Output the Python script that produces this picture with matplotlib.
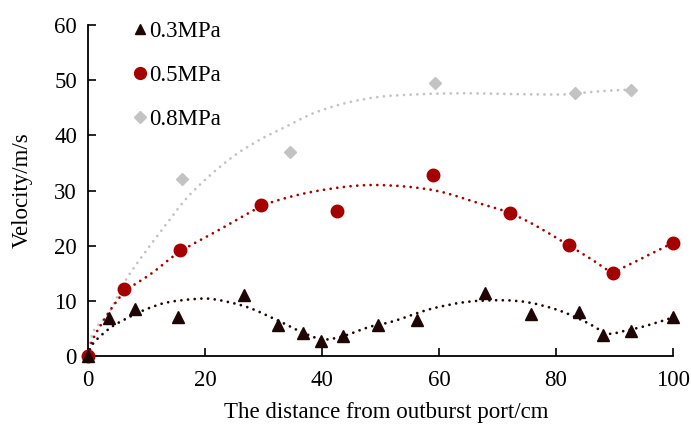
import numpy as np
import matplotlib
matplotlib.use("Agg")
import matplotlib.pyplot as plt
from matplotlib.path import Path
from matplotlib.patches import PathPatch
from matplotlib.lines import Line2D

plt.rcParams['font.family'] = ['Liberation Serif', 'DejaVu Serif']

# measured points
x_03 = [0, 3.5, 8.0, 15.3, 26.7, 32.5, 36.7, 39.8, 43.6, 49.5, 56.2, 67.9, 75.7, 84.0, 88.0, 92.8, 100]
y_03 = [0, 6.9, 8.5, 7.1, 11.1, 5.7, 4.1, 2.8, 3.6, 5.6, 6.6, 11.5, 7.6, 8.0, 3.8, 4.6, 7.0]

x_05 = [0, 6.2, 15.8, 29.5, 42.6, 59.0, 72.1, 82.2, 89.7, 100]
y_05 = [0, 12.2, 19.2, 27.3, 26.3, 32.8, 26.0, 20.1, 15.0, 20.5]

x_08 = [0, 16.1, 34.5, 59.3, 83.2, 92.9]
y_08 = [0, 32.1, 37.0, 49.5, 47.7, 48.2]

# trend curves
t03_x = [0, 0.9, 3.8, 6.6, 10, 13.5, 18, 21.4, 27.1, 32.3, 36.8, 40.2, 43.6, 48.2, 52.2, 58.5, 64.7, 70.7, 75.3, 80.4, 85.0, 88.8, 91.5, 95.5, 100]
t03_y = [0, 2.3, 5.1, 6.8, 8.5, 9.7, 10.3, 10.3, 8.9, 6.5, 4.2, 3.0, 3.6, 5.3, 6.3, 8.5, 9.8, 10.1, 9.7, 8.3, 6.2, 4.1, 4.5, 5.5, 7.0]

t05_x = [0, 0.9, 3.8, 6.5, 10.9, 15.7, 22.3, 29.4, 33.7, 38.5, 44.2, 48.8, 54.5, 60.2, 66.5, 71.9, 76.4, 82.1, 86.1, 89.5, 91.8, 95.8, 100]
t05_y = [0, 3.2, 8.3, 11.8, 15.0, 18.9, 22.8, 27.0, 28.6, 29.8, 30.7, 31.0, 30.7, 29.8, 27.8, 26.0, 23.7, 20.1, 17.5, 15.3, 16.2, 18.3, 20.5]

t08_x = [0, 0.9, 3.5, 6.3, 9.2, 12.6, 16.6, 20.6, 25.1, 29.7, 33.7, 38.5, 44.2, 49.9, 55.6, 61.3, 67.0, 71.9, 80.4, 83.2, 88.9, 92.9]
t08_y = [0, 4.4, 7.7, 13.5, 18.0, 22.8, 28.3, 32.5, 36.4, 39.4, 41.5, 44.0, 45.9, 47.0, 47.4, 47.6, 47.6, 47.5, 47.4, 47.6, 48.1, 48.3]

labels = ['0.3MPa', '0.5MPa', '0.8MPa']
colors = ['#1E0606', '#A50000', '#C3C3C3']
markers = ['^', 'o', 'D']
msizes = [9, 9, 6.5]
FS = 16.5

fig = plt.figure(figsize=(6.91, 4.32), dpi=100)
ax = fig.add_axes([0.1274, 0.176, 0.8466, 0.766])


def smooth_path(xs, ys):
    pts = np.column_stack([xs, ys]).astype(float)
    n = len(pts)
    verts = [pts[0]]
    codes = [Path.MOVETO]
    for i in range(n - 1):
        p0 = pts[i - 1] if i > 0 else pts[i]
        p1 = pts[i]
        p2 = pts[i + 1]
        p3 = pts[i + 2] if i + 2 < n else pts[i + 1]
        c1 = p1 + (p2 - p0) / 6.0
        c2 = p2 - (p3 - p1) / 6.0
        verts += [c1, c2, p2]
        codes += [Path.CURVE4] * 3
    return Path(verts, codes)


trends = [(t03_x, t03_y), (t05_x, t05_y), (t08_x, t08_y)]
series = [(x_03, y_03), (x_05, y_05), (x_08, y_08)]
for i in [2, 1, 0]:
    tx, ty = trends[i]
    patch = PathPatch(smooth_path(tx, ty), fill=False, edgecolor=colors[i], lw=2.0,
                      linestyle=(0, (0.01, 2.4)), capstyle='round', zorder=2,
                      transform=ax.transData)
    ax.add_patch(patch)
for i in [2, 1, 0]:
    xs, ys = series[i]
    ax.plot(xs, ys, linestyle='none', marker=markers[i], ms=msizes[i],
            color=colors[i], mec=colors[i], clip_on=False, zorder=3)

ax.set_xlim(0, 100)
ax.set_ylim(0, 60)
ax.set_xticks([0, 20, 40, 60, 80, 100])
ax.set_yticks([0, 10, 20, 30, 40, 50, 60])
ax.tick_params(axis='both', direction='in', length=6, width=1.2, labelsize=FS)
ax.tick_params(axis='x', pad=10)
ax.tick_params(axis='y', pad=8)
ax.spines['top'].set_visible(False)
ax.spines['right'].set_visible(False)
for s in ['left', 'bottom']:
    ax.spines[s].set_linewidth(1.3)
ax.set_xlabel('The distance from outburst port/cm', fontsize=FS)
ax.xaxis.set_label_coords(0.51, -0.14)
ax.set_ylabel('Velocity/m/s', fontsize=FS)
ax.yaxis.set_label_coords(-0.095, 0.5)

handles = [Line2D([], [], linestyle='none', marker=markers[i], color=colors[i],
                  ms=[7.5, 8.5, 6][i]) for i in range(3)]
leg = ax.legend(handles, labels, loc='upper left',
                bbox_to_anchor=(0.05, 1.06), frameon=False, fontsize=FS,
                handlelength=0.6, handletextpad=0.1, labelspacing=1.0,
                borderpad=0.2)

fig.savefig('out.png', dpi=100)
